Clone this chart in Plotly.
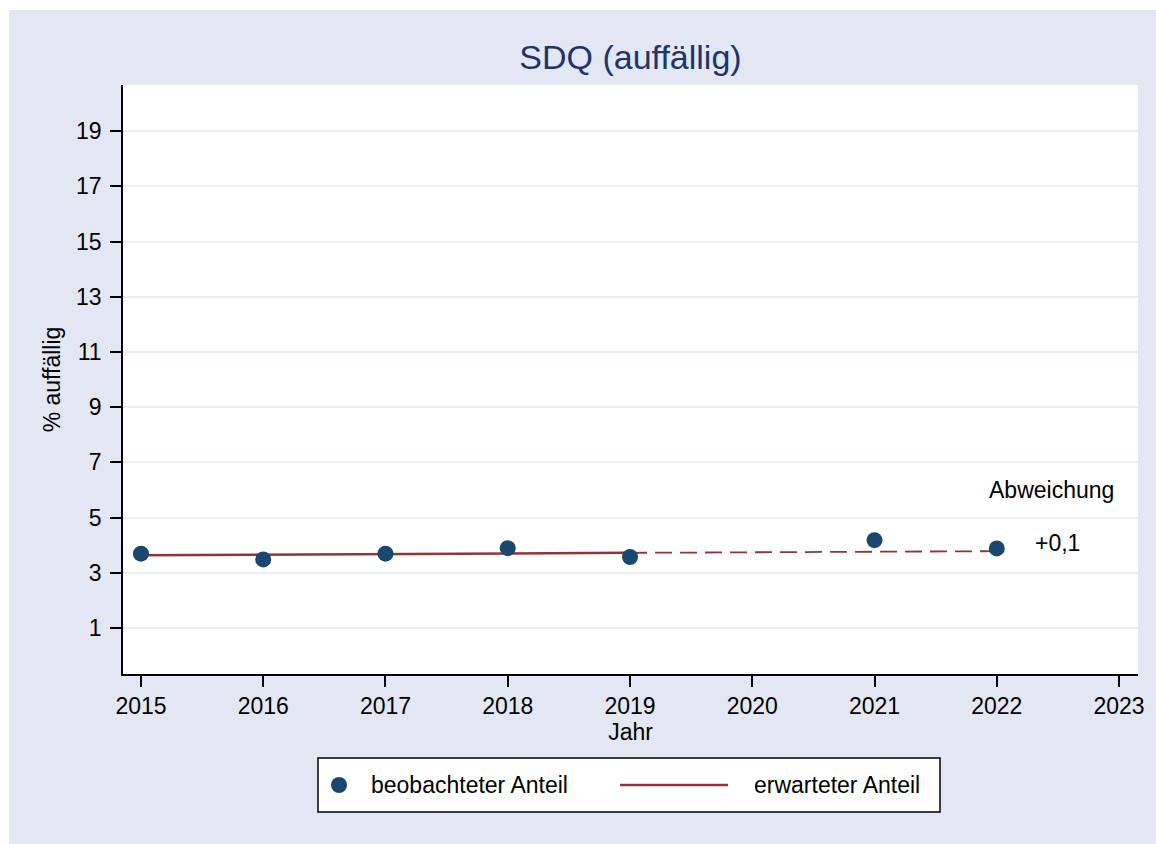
import plotly.graph_objects as go

# ---- data ----
obs_years = [2015, 2016, 2017, 2018, 2019, 2021, 2022]
obs_values = [3.69, 3.48, 3.69, 3.89, 3.57, 4.18, 3.88]

exp_years_solid = [2015, 2016, 2017, 2018, 2019]
exp_values_solid = [3.63, 3.655, 3.68, 3.70, 3.72]
exp_years_dash = [2019, 2022]
exp_values_dash = [3.72, 3.78]

x_ticks = [2015, 2016, 2017, 2018, 2019, 2020, 2021, 2022, 2023]
y_ticks = [1, 3, 5, 7, 9, 11, 13, 15, 17, 19]

title_text = "SDQ (auffällig)"
x_title = "Jahr"
y_title = "% auffällig"
legend_labels = ["beobachteter Anteil", "erwarteter Anteil"]
dev_label = "Abweichung"

# ---- styling ----
W, H = 1156, 844
L, R, T, B = 123, 1138, 85, 674
NAVY = "#1a476f"
TITLE_COL = "#1f3566"
MAROON = "#90353b"
BG = "#e3e7f3"
FONT = "Liberation Sans, Arial, sans-serif"


def px2x(px):
    return (px - L) / (R - L)


def py2y(py):
    return (B - py) / (B - T)


dev = obs_values[-1] - exp_values_dash[-1]
dev_text = ("+" if dev >= 0 else "-") + f"{abs(dev):.1f}".replace(".", ",")

fig = go.Figure()
fig.add_trace(go.Scatter(x=exp_years_solid, y=exp_values_solid, mode="lines",
                         line=dict(color=MAROON, width=2.5), name=legend_labels[1],
                         showlegend=False))
fig.add_trace(go.Scatter(x=exp_years_dash, y=exp_values_dash, mode="lines",
                         line=dict(color=MAROON, width=1.8, dash="17px,8px"),
                         showlegend=False))
fig.add_trace(go.Scatter(x=obs_years, y=obs_values, mode="markers",
                         marker=dict(color=NAVY, size=16), name=legend_labels[0],
                         showlegend=False))

shapes = []
# white strip at top and left (outer frame)
shapes.append(dict(type="rect", xref="paper", yref="paper", layer="above",
                   x0=px2x(0), x1=px2x(W), y0=py2y(10), y1=py2y(0),
                   fillcolor="white", line=dict(width=0)))
shapes.append(dict(type="rect", xref="paper", yref="paper", layer="above",
                   x0=px2x(0), x1=px2x(9), y0=py2y(H), y1=py2y(0),
                   fillcolor="white", line=dict(width=0)))
# legend box
shapes.append(dict(type="rect", xref="paper", yref="paper",
                   x0=px2x(318), x1=px2x(940), y0=py2y(812), y1=py2y(758),
                   fillcolor="white", line=dict(color="black", width=1.5)))
shapes.append(dict(type="circle", xref="paper", yref="paper",
                   x0=px2x(331), x1=px2x(347), y0=py2y(793), y1=py2y(777),
                   fillcolor=NAVY, line=dict(width=0)))
shapes.append(dict(type="line", xref="paper", yref="paper",
                   x0=px2x(620), x1=px2x(728), y0=py2y(785), y1=py2y(785),
                   line=dict(color=MAROON, width=2.5)))

annotations = [
    dict(text=legend_labels[0], xref="paper", yref="paper", x=px2x(369), y=py2y(785),
         xanchor="left", yanchor="middle", showarrow=False, font=dict(size=23, color="black")),
    dict(text=legend_labels[1], xref="paper", yref="paper", x=px2x(752), y=py2y(785),
         xanchor="left", yanchor="middle", showarrow=False, font=dict(size=23, color="black")),
    dict(text=dev_label, x=2022.45, y=6.0, xref="x", yref="y", showarrow=False,
         xanchor="center", yanchor="middle", font=dict(size=23, color="black")),
    dict(text=dev_text, x=2022.5, y=4.08, xref="x", yref="y", showarrow=False,
         xanchor="center", yanchor="middle", font=dict(size=23, color="black")),
]

fig.update_layout(
    width=W, height=H,
    margin=dict(l=L, r=W - R, t=T, b=H - B, autoexpand=False),
    paper_bgcolor=BG, plot_bgcolor="white",
    font=dict(family=FONT, size=23, color="black"),
    showlegend=False,
    title=dict(text=title_text, x=0.5, xref="paper", xanchor="center",
               y=1 - 57 / H, yref="container", yanchor="middle",
               font=dict(size=34, color=TITLE_COL)),
    xaxis=dict(range=[2014.853, 2023.155], tickmode="array", tickvals=x_ticks,
               ticktext=[str(v) for v in x_ticks], showgrid=False, zeroline=False,
               showline=True, linecolor="black", linewidth=1.5,
               ticks="outside", ticklen=11, tickwidth=1.5, tickcolor="black",
               ticklabelstandoff=0,
               title=dict(text=x_title, standoff=2, font=dict(size=23)),
               automargin=False),
    yaxis=dict(range=[-0.67, 20.67], tickmode="array", tickvals=y_ticks,
               ticktext=[str(v) for v in y_ticks], showgrid=True,
               gridcolor="#e8eff3", gridwidth=2, zeroline=False,
               showline=True, linecolor="black", linewidth=1.5,
               ticks="outside", ticklen=11, tickwidth=1.5, tickcolor="black",
               ticklabelstandoff=4,
               title=dict(text=y_title, standoff=9, font=dict(size=23)),
               automargin=False),
    shapes=shapes,
    annotations=annotations,
)

fig.write_html("out.html",
               config={"displayModeBar": False},
               post_script="document.body.style.margin='0px';"
                           "document.body.style.padding='0px';")
